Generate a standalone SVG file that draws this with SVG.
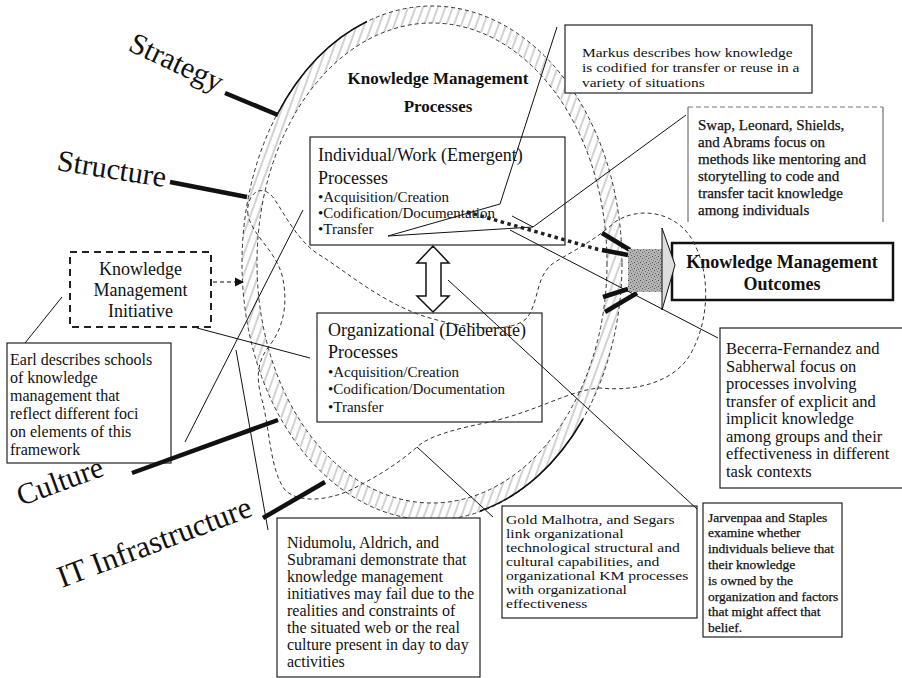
<svg xmlns="http://www.w3.org/2000/svg" width="902" height="678" viewBox="0 0 902 678">
<style>
.t{font-family:"Liberation Serif","Times New Roman",serif;fill:#111}
.big{font-size:30px}
.b{font-weight:bold}
.box{fill:#fff;stroke:#222;stroke-width:1.2}
.ln{stroke:#111;stroke-width:1;fill:none}
.thick{stroke:#111;stroke-width:4.5;fill:none;stroke-linecap:butt}
.dash{stroke:#333;stroke-width:1;fill:none;stroke-dasharray:4 3}
.semi{stroke:#111;stroke-width:0.25}
</style>
<defs>
<pattern id="hatch" patternUnits="userSpaceOnUse" width="7" height="7" patternTransform="rotate(20)">
<line x1="1" y1="0" x2="1" y2="7" stroke="#666" stroke-width="0.6"/>
</pattern>
<pattern id="speck" patternUnits="userSpaceOnUse" width="6" height="6">
<rect width="6" height="6" fill="#b4b4b4"/>
<rect x="0" y="0" width="1" height="1" fill="#555"/>
<rect x="3" y="1" width="1" height="1" fill="#777"/>
<rect x="1" y="3" width="1" height="1" fill="#666"/>
<rect x="4" y="4" width="1" height="1" fill="#444"/>
<rect x="5" y="2" width="1" height="1" fill="#888"/>
<rect x="2" y="5" width="1" height="1" fill="#777"/>
</pattern>
</defs>
<rect width="902" height="678" fill="#fff"/>

<g id="band">
<path d="M242 263 A190 257 0 1 0 622 263 A190 257 0 1 0 242 263 Z M257 263 A175 240 0 1 0 607 263 A175 240 0 1 0 257 263 Z" fill="url(#hatch)" fill-rule="evenodd" stroke="none"/>
<ellipse cx="432" cy="263" rx="190" ry="257" class="dash" stroke="#555"/>
<ellipse cx="432" cy="263" rx="175" ry="240" class="dash" stroke="#555"/>
<path d="M278 113 A190 257 0 0 1 367 21.5" stroke="#111" stroke-width="1.6" fill="none"/>
<path d="M583 419 A190 257 0 0 1 480 511" stroke="#111" stroke-width="1.6" fill="none"/>
</g>

<g id="individual">
<rect x="310" y="137" width="255" height="108" class="box"/>
<text class="t" font-size="18"><tspan x="318" y="161">Individual/Work (Emergent)</tspan><tspan x="318" y="184">Processes</tspan></text>
<text class="t" font-size="15"><tspan x="318" y="202">•Acquisition/Creation</tspan><tspan x="318" y="218">•Codification/Documentation</tspan><tspan x="318" y="234">•Transfer</tspan></text>
</g>

<g id="organizational">
<rect x="317" y="313" width="225" height="109" class="box"/>
<text class="t" font-size="18"><tspan x="328" y="336">Organizational (Deliberate)</tspan><tspan x="328" y="358">Processes</tspan></text>
<text class="t" font-size="15"><tspan x="328" y="377">•Acquisition/Creation</tspan><tspan x="328" y="394">•Codification/Documentation</tspan><tspan x="328" y="412">•Transfer</tspan></text>
</g>

<g id="kmi">
<rect x="70" y="252" width="141" height="75" fill="#fff" stroke="#222" stroke-width="2" stroke-dasharray="7 5"/>
<text class="t" font-size="18" text-anchor="middle"><tspan x="140.5" y="275">Knowledge</tspan><tspan x="140.5" y="296">Management</tspan><tspan x="140.5" y="317">Initiative</tspan></text>
</g>

<g id="earl">
<rect x="7" y="343" width="164" height="120" class="box"/>
<text class="t" font-size="16"><tspan x="10" y="365">Earl describes schools</tspan><tspan x="10" y="383">of knowledge</tspan><tspan x="10" y="401">management that</tspan><tspan x="10" y="419">reflect different foci</tspan><tspan x="10" y="437">on elements of this</tspan><tspan x="10" y="455">framework</tspan></text>
</g>

<g id="markus">
<rect x="565" y="25" width="247" height="68" class="box"/>
<g transform="translate(582,0) scale(1.19,1)">
<text class="t" font-size="13"><tspan x="0" y="57">Markus describes how knowledge</tspan><tspan x="0" y="72">is codified for transfer or reuse in a</tspan><tspan x="0" y="87">variety of situations</tspan></text>
</g>
</g>

<g id="swap">
<path d="M688 222 V107 M883 107 V222" stroke="#555" stroke-width="1" fill="none"/>
<path d="M688 107 H883" stroke="#777" stroke-width="1" stroke-dasharray="5 3" fill="none"/>
<text class="t semi" font-size="15"><tspan x="698" y="130">Swap, Leonard, Shields,</tspan><tspan x="698" y="147">and Abrams focus on</tspan><tspan x="698" y="164">methods like mentoring and</tspan><tspan x="698" y="181">storytelling to code and</tspan><tspan x="698" y="198">transfer tacit knowledge</tspan><tspan x="698" y="215">among individuals</tspan></text>
</g>

<g id="outcomes">
<rect x="672" y="243" width="221" height="57" fill="#fff" stroke="#111" stroke-width="2.5"/>
<text class="t b" font-size="18" text-anchor="middle"><tspan x="782" y="268">Knowledge Management</tspan><tspan x="782" y="290">Outcomes</tspan></text>
</g>

<g id="becerra">
<rect x="720" y="328" width="190" height="160" class="box" stroke="#444"/>
<text class="t" font-size="16.5"><tspan x="726" y="354">Becerra-Fernandez and</tspan><tspan x="726" y="371.6">Sabherwal focus on</tspan><tspan x="726" y="389.1">processes involving</tspan><tspan x="726" y="406.7">transfer of explicit and</tspan><tspan x="726" y="424.3">implicit knowledge</tspan><tspan x="726" y="441.9">among groups and their</tspan><tspan x="726" y="459.4">effectiveness in different</tspan><tspan x="726" y="477">task contexts</tspan></text>
</g>

<g id="jarvenpaa">
<rect x="703" y="503" width="139" height="134" class="box"/>
<text class="t semi" font-size="13.5"><tspan x="708" y="521.5">Jarvenpaa and Staples</tspan><tspan x="708" y="537.3">examine whether</tspan><tspan x="708" y="553.1">individuals believe that</tspan><tspan x="708" y="568.9">their knowledge</tspan><tspan x="708" y="584.7">is owned by the</tspan><tspan x="708" y="600.5">organization and factors</tspan><tspan x="708" y="616.3">that might affect that</tspan><tspan x="708" y="632">belief.</tspan></text>
</g>

<g id="gold">
<rect x="502" y="506" width="195" height="112" class="box" stroke="#444"/>
<g transform="translate(506,0) scale(1.16,1)">
<text class="t" font-size="13.5" fill="#222"><tspan x="0" y="524.5">Gold  Malhotra, and Segars</tspan><tspan x="0" y="538.5">link organizational</tspan><tspan x="0" y="552.5">technological  structural  and</tspan><tspan x="0" y="566.5">cultural capabilities, and</tspan><tspan x="0" y="580.5">organizational KM processes</tspan><tspan x="0" y="594.5">with organizational</tspan><tspan x="0" y="608.5">effectiveness</tspan></text>
</g>
</g>

<g id="nidumolu">
<rect x="277" y="518" width="203" height="159" class="box"/>
<text class="t" font-size="16"><tspan x="287" y="548">Nidumolu, Aldrich, and</tspan><tspan x="287" y="565">Subramani demonstrate that</tspan><tspan x="287" y="582">knowledge management</tspan><tspan x="287" y="599">initiatives may fail due to the</tspan><tspan x="287" y="616">realities and constraints of</tspan><tspan x="287" y="633">the situated web or the real</tspan><tspan x="287" y="650">culture present in day to day</tspan><tspan x="287" y="667">activities</tspan></text>
</g>

<g id="title">
<text class="t b" font-size="17" text-anchor="middle"><tspan x="438" y="84">Knowledge Management</tspan><tspan x="438" y="112">Processes</tspan></text>
</g>

<g id="blob">
<path class="dash" d="M248 215 C245 195 262 180 275 200 C285 215 300 245 323 257 C350 275 380 300 420 315 C460 328 510 335 527 318 C540 300 535 275 555 262 C575 250 595 240 615 222 C640 205 680 212 695 245 C710 275 710 320 690 355 C675 380 640 392 600 388 C570 390 540 410 490 422 C460 428 430 435 417 447 C400 462 380 475 360 485 C335 500 300 505 285 490 C270 470 270 430 262 400 C255 375 258 360 270 345 C285 325 288 300 282 275 C275 250 252 235 248 215 Z"/>
</g>

<g id="arrow-kmo">
<line x1="602" y1="233" x2="630" y2="250" class="thick"/>
<line x1="602" y1="250" x2="628" y2="255" class="thick"/>
<line x1="603" y1="297" x2="628" y2="289" class="thick"/>
<line x1="605" y1="312" x2="637" y2="293" class="thick"/>
<rect x="628" y="249" width="35" height="43" fill="url(#speck)"/>
<polygon points="662,228 675,265 662,310" fill="#ddd" stroke="#111" stroke-width="1"/>
</g>

<g id="double-arrow">
<polygon points="433,246 417,263 426,263 426,296 417,296 433,312 449,296 441,296 441,263 449,263" fill="#fff" stroke="#111" stroke-width="1.5"/>
</g>

<g id="connectors">
<line x1="225" y1="93" x2="278" y2="115" class="thick"/>
<line x1="170" y1="182" x2="247" y2="197" class="thick"/>
<line x1="132" y1="473" x2="278" y2="420" class="thick"/>
<line x1="263" y1="518" x2="325" y2="482" class="thick"/>
<line x1="213" y1="282" x2="236" y2="282" stroke="#111" stroke-width="1.2" stroke-dasharray="4 3"/>
<polygon points="235,277.5 244,282 235,286.5" fill="#111"/>
<line x1="25" y1="343" x2="62" y2="297" class="ln"/>
<line x1="185" y1="442" x2="303" y2="210" class="ln"/>
<line x1="197" y1="328" x2="310" y2="358" class="ln"/>
<line x1="236" y1="350" x2="268" y2="530" class="ln"/>
<line x1="417" y1="447" x2="493" y2="517" class="ln"/>
<line x1="448" y1="280" x2="697" y2="509" class="ln"/>
<line x1="510" y1="230" x2="718" y2="338" class="ln"/>
<polyline points="557,27 500,204 388,236" class="ln"/>
<polyline points="686,115 533,227 512,216" class="ln"/>
<line x1="533" y1="227" x2="388" y2="236" class="ln"/>
<line x1="467" y1="212" x2="600" y2="250" stroke="#222" stroke-width="3.5" stroke-dasharray="3.5 3.5"/>
</g>

<g id="labels">
<text class="t big" transform="translate(127,50) rotate(25)">Strategy</text>
<text class="t big" transform="translate(56,170) rotate(9)">Structure</text>
<text class="t big" transform="translate(21,506) rotate(-20)">Culture</text>
<text class="t" font-size="31" transform="translate(62,588) rotate(-20.7)">IT Infrastructure</text>
</g>
</svg>
